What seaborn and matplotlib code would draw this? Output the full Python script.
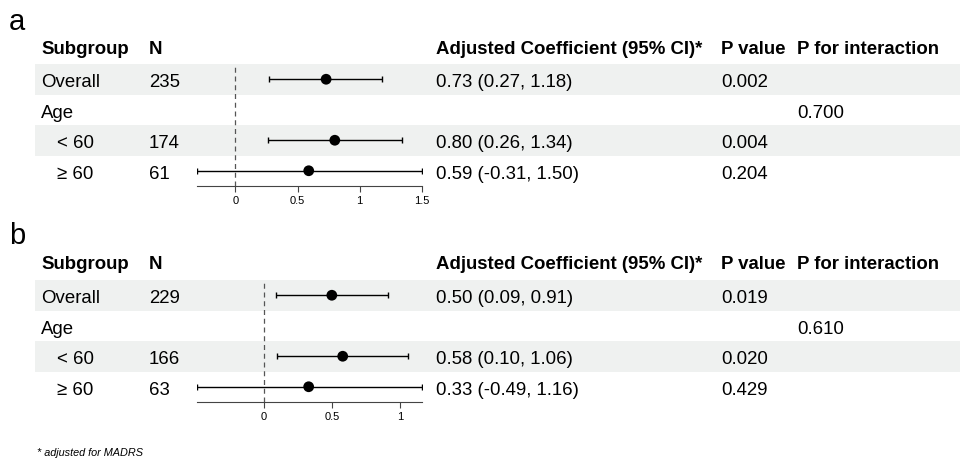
import numpy as np
import pandas as pd
import seaborn as sns
import matplotlib.pyplot as plt
from matplotlib.patches import Rectangle
from matplotlib.ticker import FuncFormatter

sns.set_style("white")
plt.rcParams['font.family'] = ['Liberation Sans', 'DejaVu Sans']
plt.rcParams['text.color'] = 'black'
plt.rcParams['xtick.color'] = 'black'

# ============ data ============
subgroups = ["Overall", "Age", "< 60", "\u2265 60"]
indent = [False, False, True, True]
headers = ["Subgroup", "N", "Adjusted Coefficient (95% CI)*", "P value", "P for interaction"]

n_a = ["235", "", "174", "61"]
est_a = [0.73, np.nan, 0.80, 0.59]
lo_a = [0.27, np.nan, 0.26, -0.31]
hi_a = [1.18, np.nan, 1.34, 1.50]
p_a = ["0.002", "", "0.004", "0.204"]
pint_a = ["", "0.700", "", ""]
ticks_a = [0, 0.5, 1, 1.5]

n_b = ["229", "", "166", "63"]
est_b = [0.50, np.nan, 0.58, 0.33]
lo_b = [0.09, np.nan, 0.10, -0.49]
hi_b = [0.91, np.nan, 1.06, 1.16]
p_b = ["0.019", "", "0.020", "0.429"]
pint_b = ["", "0.610", "", ""]
ticks_b = [0, 0.5, 1]

footnote = "* adjusted for MADRS"

panels = [
    ("a", n_a, est_a, lo_a, hi_a, p_a, pint_a, ticks_a),
    ("b", n_b, est_b, lo_b, hi_b, p_b, pint_b, ticks_b),
]

# ============ layout (pixels) ============
W, H = 964, 460
fig = plt.figure(figsize=(W / 100, H / 100), dpi=100)
bg = fig.add_axes([0, 0, 1, 1])
bg.set_xlim(0, W)
bg.set_ylim(H, 0)
bg.axis("off")

col_x = [41, 149, 436, 721, 797]
row_h = 30.5
fs = 13.4
shade = "#eff1f0"

for k, (label, n, est, lo, hi, p, pint, ticks) in enumerate(panels):
    off = 216 * k
    top = 65 + off            # top of first data row
    axis_y = 187 + off        # forest axis line
    bg.text(9, 30 + off - (2 if k else 0), label, fontsize=21, va="baseline", ha="left")

    for j, h in enumerate(headers):
        bg.text(col_x[j], 53.5 + off, h, fontsize=fs, fontweight="bold", va="baseline")

    for i in range(4):
        y0 = top + i * row_h
        if i % 2 == 0:
            bg.add_patch(Rectangle((35, y0), 925, row_h, color=shade, lw=0, zorder=0))
        base = y0 + row_h / 2 + 7
        bg.text(57 if indent[i] else col_x[0], base, subgroups[i], fontsize=fs, va="baseline")
        bg.text(col_x[1], base, n[i], fontsize=fs, va="baseline")
        if not np.isnan(est[i]):
            bg.text(col_x[2], base, f"{est[i]:.2f} ({lo[i]:.2f}, {hi[i]:.2f})",
                    fontsize=fs, va="baseline")
        bg.text(col_x[3], base, p[i], fontsize=fs, va="baseline")
        bg.text(col_x[4], base, pint[i], fontsize=fs, va="baseline")

    # forest column
    x0, x1 = 197, 421.7
    ax = fig.add_axes([x0 / W, 1 - axis_y / H, (x1 - x0) / W, (axis_y - top) / H])
    ax.patch.set_alpha(0)
    df = pd.DataFrame({"row": np.arange(1, 5), "est": est, "lo": lo, "hi": hi}).dropna()
    ax.errorbar(df["est"], df["row"], xerr=[df["est"] - df["lo"], df["hi"] - df["est"]],
                fmt="none", ecolor="black", elinewidth=1, capsize=2, capthick=1, zorder=2)
    sns.scatterplot(data=df, x="est", y="row", ax=ax, color="black", s=60,
                    edgecolor="none", zorder=3, legend=False)
    ax.axvline(0, color="#555555", lw=0.9, ls=(0, (4, 3)), zorder=1)
    ax.set_xlim(df["lo"].min(), df["hi"].max())
    ax.set_ylim(4.5, 0.5)
    ax.set_xticks(ticks)
    ax.xaxis.set_major_formatter(FuncFormatter(lambda v, _: f"{v:g}"))
    ax.set_yticks([])
    ax.set_xlabel("")
    ax.set_ylabel("")
    for s in ["top", "left", "right"]:
        ax.spines[s].set_visible(False)
    ax.spines["bottom"].set_color("#444444")
    ax.spines["bottom"].set_linewidth(0.8)
    ax.tick_params(axis="x", length=4.3, width=0.8, color="#444444",
                   labelcolor="black", labelsize=8, pad=2.5, bottom=True)

bg.text(37, 453, footnote, fontsize=7.8, style="italic", va="center")

fig.savefig("out.png", dpi=100)
